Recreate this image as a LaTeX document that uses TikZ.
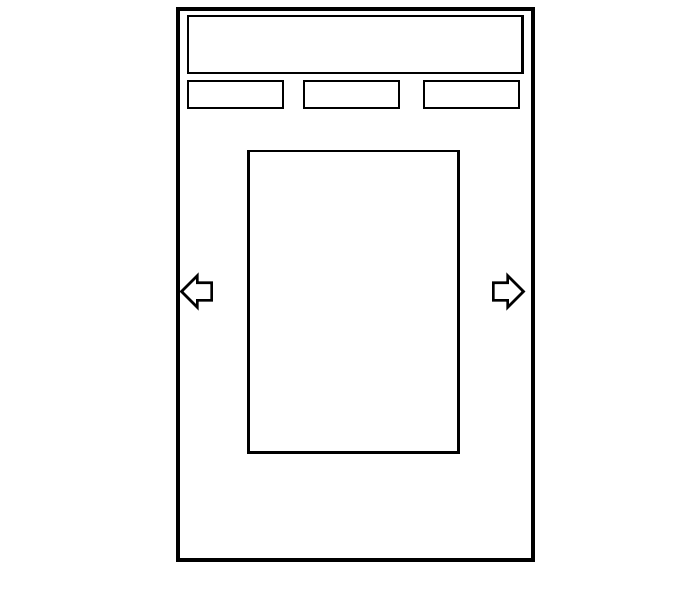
\documentclass[tikz,border=0pt]{standalone}
\usetikzlibrary{shapes.arrows}

\begin{document}
\begin{tikzpicture}[
        x=0.01cm, y=-0.01cm,
        % Define node styles
        frame/.style={draw, line width=1.3pt, rectangle, inner sep=0pt},
        panel/.style={draw, line width=0.8pt, rectangle, inner sep=0pt},
        navarrow/.style={draw, line width=0.75pt, single arrow, inner xsep=0pt, inner ysep=0.075cm,
            single arrow head extend=0.07cm, minimum height=0.30cm}
    ]
    \useasboundingbox (0,0) rectangle (698,594);

    % --- Outer frame ---
    \node[frame, minimum width=3.55cm, minimum height=5.51cm] (screen) at (355.5,284.5) {};

    % --- Header and tabs ---
    \node[panel, minimum width=3.34cm, minimum height=0.57cm] (header) at (355,44.5) {};
    \node[panel, minimum width=0.95cm, minimum height=0.27cm] (tabA) at (235.5,94.5) {};
    \node[panel, minimum width=0.95cm, minimum height=0.27cm] (tabB) at (351.5,94.5) {};
    \node[panel, minimum width=0.95cm, minimum height=0.27cm] (tabC) at (471.5,94.5) {};

    % --- Content area ---
    \node[panel, minimum width=2.10cm, minimum height=3.01cm] (content) at (353.5,301.5) {};

    % --- Navigation arrows ---
    \node[navarrow, shape border rotate=180] (prev) at (201,291.5) {};
    \node[navarrow] (next) at (504,291.5) {};

\end{tikzpicture}
\end{document}
